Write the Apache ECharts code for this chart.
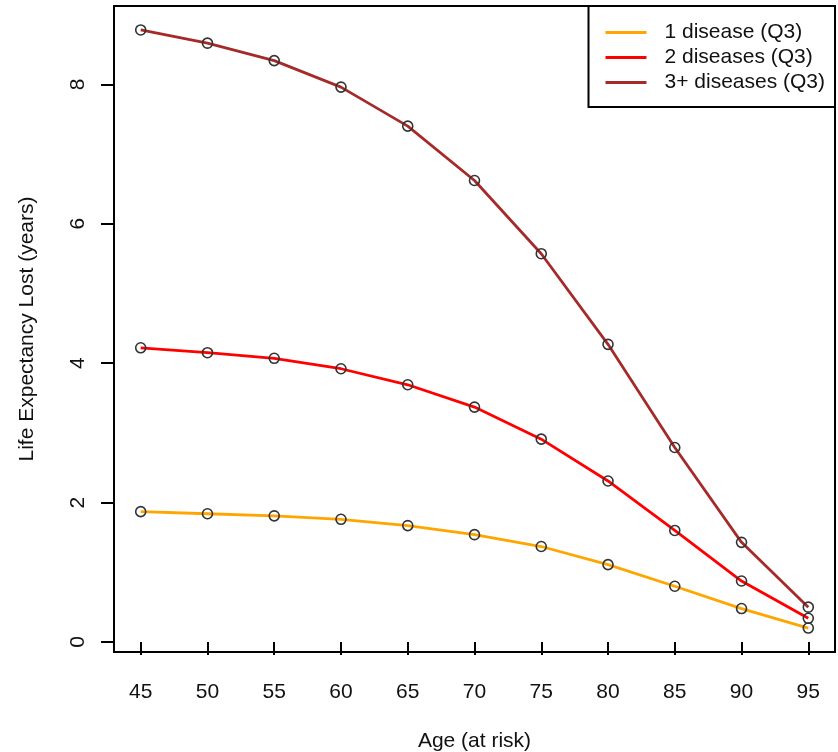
<!DOCTYPE html>
<html><head><meta charset="utf-8">
<script src="https://cdn.jsdelivr.net/npm/echarts@6/dist/echarts.min.js"></script>
<style>html,body{margin:0;padding:0;background:#fff}#c{width:838px;height:752px}</style>
</head><body><div id="c"></div>
<script>
const ages = [45, 50, 55, 60, 65, 70, 75, 80, 85, 90, 95];
const oneDisease = [1.87, 1.84, 1.81, 1.76, 1.67, 1.54, 1.37, 1.11, 0.80, 0.48, 0.20];
const twoDiseases = [4.22, 4.15, 4.07, 3.92, 3.69, 3.37, 2.91, 2.31, 1.60, 0.875, 0.34];
const threePlusDiseases = [8.78, 8.59, 8.34, 7.96, 7.40, 6.62, 5.57, 4.27, 2.79, 1.43, 0.50];
const xTicks = [45, 50, 55, 60, 65, 70, 75, 80, 85, 90, 95];
const yTicks = [0, 2, 4, 6, 8];
const seriesNames = ['1 disease (Q3)', '2 diseases (Q3)', '3+ diseases (Q3)'];
const seriesColors = ['#FFA500', '#FF0000', '#A52A2A'];
const seriesValues = [oneDisease, twoDiseases, threePlusDiseases];

// R-style 4% axis extension
const allY = seriesValues.flat();
const yMinD = Math.min(...allY), yMaxD = Math.max(...allY);
const yExt = 0.04 * (yMaxD - yMinD);
const xMinD = Math.min(...ages), xMaxD = Math.max(...ages);
const xExt = 0.04 * (xMaxD - xMinD);

const FONT = 'Liberation Sans, Arial, sans-serif';
const TXT = '#111';

const chart = echarts.init(document.getElementById('c'), null, {renderer: 'canvas'});
chart.setOption({
  animation: false,
  backgroundColor: '#fff',
  grid: {left: 114, right: 3, top: 6, bottom: 100, show: true, borderColor: '#000', borderWidth: 2, backgroundColor: 'transparent', containLabel: false, outerBoundsMode: 'none'},
  xAxis: {
    type: 'value', min: xMinD - xExt, max: xMaxD + xExt,
    name: 'Age (at risk)', nameLocation: 'middle', nameGap: 79,
    nameTextStyle: {fontFamily: FONT, fontSize: 21, color: TXT},
    axisLine: {show: false},
    splitLine: {show: false},
    axisTick: {show: true, length: 13, customValues: xTicks, lineStyle: {color: '#000', width: 2}},
    axisLabel: {customValues: xTicks, margin: 30, fontFamily: FONT, fontSize: 21, color: TXT}
  },
  yAxis: {
    type: 'value', min: yMinD - yExt, max: yMaxD + yExt,
    name: 'Life Expectancy Lost (years)', nameLocation: 'middle', nameGap: 76,
    nameTextStyle: {fontFamily: FONT, fontSize: 21, color: TXT},
    axisLine: {show: false},
    splitLine: {show: false},
    axisTick: {show: true, length: 13, customValues: yTicks, lineStyle: {color: '#000', width: 2}},
    axisLabel: {customValues: yTicks, rotate: 90, margin: 25, fontFamily: FONT, fontSize: 21, color: TXT}
  },
  legend: {
    right: 3, top: 6, orient: 'vertical',
    backgroundColor: '#fff', borderColor: '#000', borderWidth: 2,
    padding: [16, 10, 14, 17], itemGap: 4,
    itemWidth: 41, itemHeight: 3,
    textStyle: {fontFamily: FONT, fontSize: 21, color: TXT, lineHeight: 21, padding: [0, 0, 0, 13]},
    data: seriesNames.map((n, i) => ({name: n, icon: 'rect', itemStyle: {color: seriesColors[i], borderWidth: 0}}))
  },
  series: seriesNames.map((n, i) => ({
    name: n, type: 'line', smooth: false,
    data: ages.map((a, j) => [a, seriesValues[i][j]]),
    lineStyle: {color: seriesColors[i], width: 2.8},
    symbol: 'circle', symbolSize: 10,
    itemStyle: {color: 'rgba(0,0,0,0)', borderColor: '#333', borderWidth: 1.6},
    z: 2 + i
  }))
});
</script></body></html>
